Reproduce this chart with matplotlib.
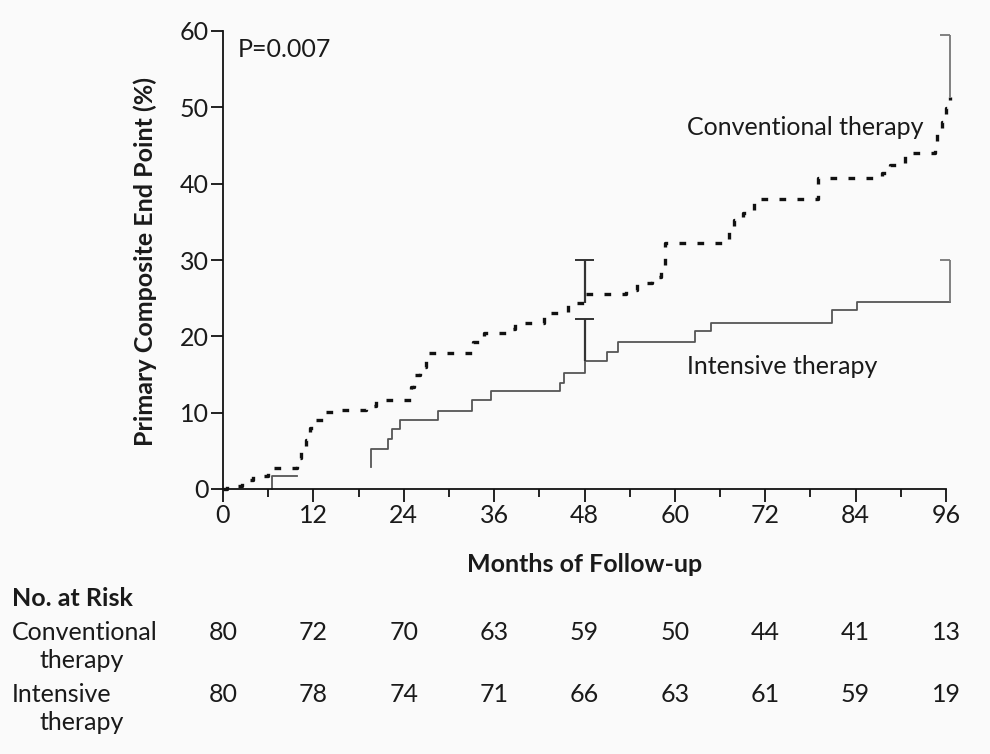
import matplotlib
matplotlib.use('Agg')
import matplotlib.pyplot as plt
import matplotlib.transforms as mtransforms
import numpy as np

# Conventional therapy (step curve, months / %)
conv_t = [0, 0.5, 2.5, 4.0, 6.0, 9.8, 10.4, 11.0, 11.5, 12.2, 13.5, 15.0, 19.0, 20.3,
          24.9, 25.3, 26.2, 27.0, 33.2, 34.6, 37.8, 38.8, 42.6, 45.8, 48.2, 53.5, 55.0,
          57.0, 58.2, 58.7, 67.2, 67.8, 69.0, 70.5, 79.0, 87.5, 88.5, 90.5, 94.5, 94.8,
          95.5, 96.0, 96.5]
conv_y = [0, 0.4, 1.2, 1.7, 2.7, 4.0, 5.1, 6.4, 8.0, 9.0, 10.1, 10.4, 10.9, 11.7,
          13.4, 14.9, 16.0, 17.8, 19.3, 20.5, 20.9, 21.8, 23.0, 24.4, 25.6, 26.1, 27.0,
          27.8, 28.9, 32.2, 33.9, 35.3, 36.1, 38.0, 40.8, 41.4, 42.5, 44.0, 45.3, 47.0,
          48.1, 49.9, 51.4]

# Intensive therapy (the curve is broken between ~10 and ~20 months in the original)
int_t = [6.5, 6.5, 9.8, np.nan, 19.7, 19.7, 21.9, 22.5, 23.5, 28.5, 33.0, 35.6, 44.8,
         45.3, 48.0, 51.0, 52.4, 62.7, 64.8, 80.9, 84.2, 96.5]
int_y = [0, 1.7, 1.7, np.nan, 2.9, 5.3, 6.5, 7.9, 9.0, 10.2, 11.7, 12.9, 13.9,
         15.2, 16.8, 17.9, 19.3, 20.7, 21.8, 23.4, 24.5, 24.5]

# confidence bars: (month, low, high)
ci48_conv = (48, 24.4, 30.0)
ci48_int = (48, 16.8, 22.3)
ci96_conv = (96.5, 51.4, 59.5)
ci96_int = (96.5, 24.5, 30.0)

risk_months = [0, 12, 24, 36, 48, 60, 72, 84, 96]
risk_conv = [80, 72, 70, 63, 59, 50, 44, 41, 13]
risk_int = [80, 78, 74, 71, 66, 63, 61, 59, 19]

plt.rcParams['font.family'] = ['Lato', 'DejaVu Sans']
txt = '#1a1a1a'
fs = 18

fig = plt.figure(figsize=(9.9, 7.54), dpi=100, facecolor='#fafafa')
ax = fig.add_axes([223 / 990, 1 - 489 / 754, 723 / 990, 458 / 754])
ax.set_facecolor('#fafafa')

ax.plot(conv_t, conv_y, drawstyle='steps-post', color='#111111', lw=2.4,
        linestyle=(0, (2.0, 3.4)), clip_on=False, solid_capstyle='butt')
ax.plot(int_t, int_y, drawstyle='steps-post', color='#555555', lw=1.3, clip_on=False)

# T-shaped bars at 48 months
for x, lo, hi in [ci48_conv, ci48_int]:
    ax.vlines(x, lo, hi, color='#333333', lw=1.6, clip_on=False)
    ax.hlines(hi, x - 1.2, x + 1.2, color='#333333', lw=1.4, clip_on=False)
# bracket bars at the end
for x, lo, hi in [ci96_conv, ci96_int]:
    ax.vlines(x, lo, hi, color='#777777', lw=1.3, clip_on=False)
    ax.hlines(hi, x - 1.3, x, color='#777777', lw=1.3, clip_on=False)

ax.set_xlim(0, 96)
ax.set_ylim(0, 60)
ax.set_xticks(risk_months)
ax.set_xticks(np.arange(6, 96, 12), minor=True)
ax.set_yticks([0, 10, 20, 30, 40, 50, 60])
for s in ['top', 'right']:
    ax.spines[s].set_visible(False)
for s in ['left', 'bottom']:
    ax.spines[s].set_linewidth(1.3)
    ax.spines[s].set_color('#111111')
ax.tick_params(axis='x', which='major', length=9.5, width=1.3, labelsize=fs, pad=1, colors='#111111', labelcolor=txt)
ax.tick_params(axis='x', which='minor', length=6, width=1.3, colors='#111111')
ax.tick_params(axis='y', length=9, width=1.3, labelsize=fs, pad=1, colors='#111111', labelcolor=txt)

ax.text(1.9, 57.6, 'P=0.007', fontsize=fs, color=txt, va='center', ha='left')
ax.text(61.6, 47.4, 'Conventional therapy', fontsize=fs, color=txt, va='center', ha='left')
ax.text(61.6, 16.1, 'Intensive therapy', fontsize=fs, color=txt, va='center', ha='left')

fig.text(145 / 990, 1 - 262 / 754, 'Primary Composite End Point (%)', rotation=90,
         fontsize=fs, fontweight='bold', color=txt, ha='center', va='center')
fig.text(585 / 990, 1 - 565 / 754, 'Months of Follow-up', fontsize=fs,
         fontweight='bold', color=txt, ha='center', va='center')

# number at risk table
fig.text(12 / 990, 1 - 598 / 754, 'No. at Risk', fontsize=fs, fontweight='bold',
         color=txt, ha='left', va='center')
fig.text(12 / 990, 1 - 633 / 754, 'Conventional', fontsize=fs, color=txt, va='center')
fig.text(40 / 990, 1 - 661 / 754, 'therapy', fontsize=fs, color=txt, va='center')
fig.text(12 / 990, 1 - 695 / 754, 'Intensive', fontsize=fs, color=txt, va='center')
fig.text(40 / 990, 1 - 722 / 754, 'therapy', fontsize=fs, color=txt, va='center')

trans = mtransforms.blended_transform_factory(ax.transData, fig.transFigure)
for m, c, i in zip(risk_months, risk_conv, risk_int):
    ax.text(m, 1 - 633 / 754, str(c), transform=trans, fontsize=fs, color=txt,
            ha='center', va='center', clip_on=False)
    ax.text(m, 1 - 695 / 754, str(i), transform=trans, fontsize=fs, color=txt,
            ha='center', va='center', clip_on=False)

fig.savefig('out.png', dpi=100, facecolor=fig.get_facecolor())
